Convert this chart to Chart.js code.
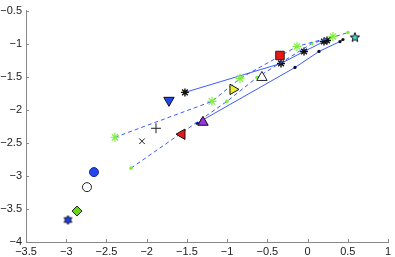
<!DOCTYPE html>
<html>
<head>
<meta charset="utf-8">
<script src="https://cdn.jsdelivr.net/npm/chart.js@4"></script>
<style>
  html, body { margin: 0; padding: 0; background: #fff; }
  #wrap { width: 395px; height: 257px; }
</style>
</head>
<body>
<div id="wrap"><canvas id="chart"></canvas></div>
<script>
// tick positions
const xTickValues = [-3.5, -3, -2.5, -2, -1.5, -1, -0.5, 0, 0.5, 1];
const yTickValues = [-4, -3.5, -3, -2.5, -2, -1.5, -1, -0.5];

// trajectories, 5 points each
const greenStarX = [-2.394, -1.188, -0.840, -0.131, 0.316];
const greenStarY = [-2.416, -1.873, -1.526, -1.043, -0.892];
const greenDotX = [-2.195, -1.002, -0.629, 0.055, 0.502];
const greenDotY = [-2.883, -1.873, -1.511, -0.998, -0.832];
const blackStarX = [-1.524, -0.330, -0.044, 0.204, 0.242];
const blackStarY = [-1.737, -1.299, -1.118, -0.968, -0.952];
const blackDotX = [-1.374, -0.156, 0.142, 0.403, 0.440];
const blackDotY = [-2.204, -1.360, -1.118, -0.968, -0.937];

// single markers
const markerNames = ['hexagram', 'diamond', 'circleOpen', 'circleBlue', 'xmark', 'plus',
  'triLeft', 'triUp', 'triDown', 'triRight', 'triOpen', 'square', 'pentagram'];
const markerX = [-2.978, -2.866, -2.742, -2.655, -2.058, -1.884, -1.561, -1.300, -1.723, -0.927, -0.567, -0.343, 0.589];
const markerY = [-3.667, -3.532, -3.170, -2.943, -2.476, -2.280, -2.370, -2.189, -1.857, -1.692, -1.511, -1.179, -0.907];

const lineBlue = '#3a5cff';

function starImage(n, size, innerRatio, fill) {
    const c = document.createElement('canvas');
    c.width = size; c.height = size;
    const g = c.getContext('2d');
    const cx = size / 2, cy = size / 2, r = size / 2 - 1;
    g.beginPath();
    for (let i = 0; i < n * 2; i++) {
        const rr = i % 2 === 0 ? r : r * innerRatio;
        const a = -Math.PI / 2 + i * Math.PI / n;
        const px = cx + rr * Math.cos(a), py = cy + rr * Math.sin(a);
        if (i === 0) g.moveTo(px, py); else g.lineTo(px, py);
    }
    g.closePath();
    g.fillStyle = fill;
    g.fill();
    g.strokeStyle = '#111';
    g.lineWidth = 1;
    g.stroke();
    return c;
}

const markerStyles = {
    hexagram:   { pointStyle: starImage(6, 11, 0.58, '#1f3cf0') },
    diamond:    { pointStyle: 'rectRot', radius: 5, bg: '#6ad41c', border: '#222' },
    circleOpen: { pointStyle: 'circle', radius: 4.5, bg: '#fff', border: '#222' },
    circleBlue: { pointStyle: 'circle', radius: 4.5, bg: '#2445f0', border: '#1a2a90' },
    xmark:      { pointStyle: 'crossRot', radius: 4, bg: '#222', border: '#222' },
    plus:       { pointStyle: 'cross', radius: 5, bg: '#222', border: '#222' },
    triLeft:    { pointStyle: 'triangle', rotation: -90, radius: 6, bg: '#e81818', border: '#111' },
    triUp:      { pointStyle: 'triangle', radius: 6, bg: '#9a34e0', border: '#111' },
    triDown:    { pointStyle: 'triangle', rotation: 180, radius: 6, bg: '#2445e8', border: '#111' },
    triRight:   { pointStyle: 'triangle', rotation: 90, radius: 6, bg: '#eded2a', border: '#111' },
    triOpen:    { pointStyle: 'triangle', radius: 6, bg: '#fff', border: '#222' },
    square:     { pointStyle: 'rect', radius: 6, bg: '#e81818', border: '#222' },
    pentagram:  { pointStyle: starImage(5, 12, 0.42, '#3fd8c8') }
};

function pts(xs, ys) {
    return xs.map((x, i) => ({ x: x, y: ys[i] }));
}

const datasets = [
    { data: pts(greenStarX, greenStarY), showLine: true, borderColor: lineBlue, borderWidth: 1, borderDash: [4, 3],
      pointStyle: 'star', pointRadius: 4.5, pointBorderColor: '#7cf03c', pointBackgroundColor: '#7cf03c', pointBorderWidth: 1.2, order: 2 },
    { data: pts(greenDotX, greenDotY), showLine: true, borderColor: lineBlue, borderWidth: 1, borderDash: [4, 3],
      pointStyle: 'circle', pointRadius: 1.8, pointBorderWidth: 0, pointBackgroundColor: '#7cf03c', order: 2 },
    { data: pts(blackStarX, blackStarY), showLine: true, borderColor: lineBlue, borderWidth: 1,
      pointStyle: 'star', pointRadius: 4, pointBorderColor: '#111', pointBorderWidth: 1.4, order: 2 },
    { data: pts(blackDotX, blackDotY), showLine: true, borderColor: lineBlue, borderWidth: 1,
      pointStyle: 'circle', pointRadius: 1.6, pointBorderWidth: 0, pointBackgroundColor: '#111', order: 2 }
];

markerNames.forEach((name, i) => {
    const s = markerStyles[name];
    datasets.push({
        data: [{ x: markerX[i], y: markerY[i] }],
        showLine: false,
        pointStyle: s.pointStyle,
        rotation: s.rotation || 0,
        pointRadius: s.radius || 5,
        pointBackgroundColor: s.bg || '#000',
        pointBorderColor: s.border || '#111',
        pointBorderWidth: 1,
        order: 1
    });
});

const inwardTicks = {
    id: 'inwardTicks',
    afterDraw(chart) {
        const ctx = chart.ctx, a = chart.chartArea;
        const xs = chart.scales.x, ys = chart.scales.y;
        ctx.save();
        ctx.strokeStyle = '#888';
        ctx.lineWidth = 1;
        ctx.beginPath();
        xTickValues.forEach(v => {
            const p = Math.round(xs.getPixelForValue(v)) + 0.5;
            ctx.moveTo(p, a.bottom);
            ctx.lineTo(p, a.bottom - 3);
        });
        yTickValues.forEach(v => {
            const p = Math.round(ys.getPixelForValue(v)) + 0.5;
            ctx.moveTo(a.left, p);
            ctx.lineTo(a.left + 3, p);
        });
        ctx.stroke();
        ctx.restore();
    }
};

function fmt(v) {
    return String(v).replace('-', '\u2212');
}

const font = { family: '"Liberation Sans", Arial, sans-serif', size: 11 };

new Chart(document.getElementById('chart'), {
    type: 'scatter',
    data: { datasets: datasets },
    options: {
        responsive: true,
        maintainAspectRatio: false,
        animation: false,
        events: [],
        layout: { padding: { top: 10, right: 7, left: 0, bottom: 0 } },
        plugins: { legend: { display: false }, tooltip: { enabled: false } },
        scales: {
            x: {
                min: -3.5, max: 1,
                afterBuildTicks: s => { s.ticks = xTickValues.map(v => ({ value: v })); },
                afterFit: s => { s.height = 15; },
                grid: { drawOnChartArea: false, drawTicks: false },
                border: { display: true, color: '#888' },
                ticks: { color: '#222', font: font, padding: 3, maxRotation: 0, callback: v => fmt(v) }
            },
            y: {
                min: -4, max: -0.5,
                afterBuildTicks: s => { s.ticks = yTickValues.map(v => ({ value: v })); },
                afterFit: s => { s.width = 26; },
                grid: { drawOnChartArea: false, drawTicks: false },
                border: { display: true, color: '#888' },
                ticks: { color: '#222', font: font, padding: 4, callback: v => fmt(v) }
            }
        }
    },
    plugins: [inwardTicks]
});
</script>
</body>
</html>
